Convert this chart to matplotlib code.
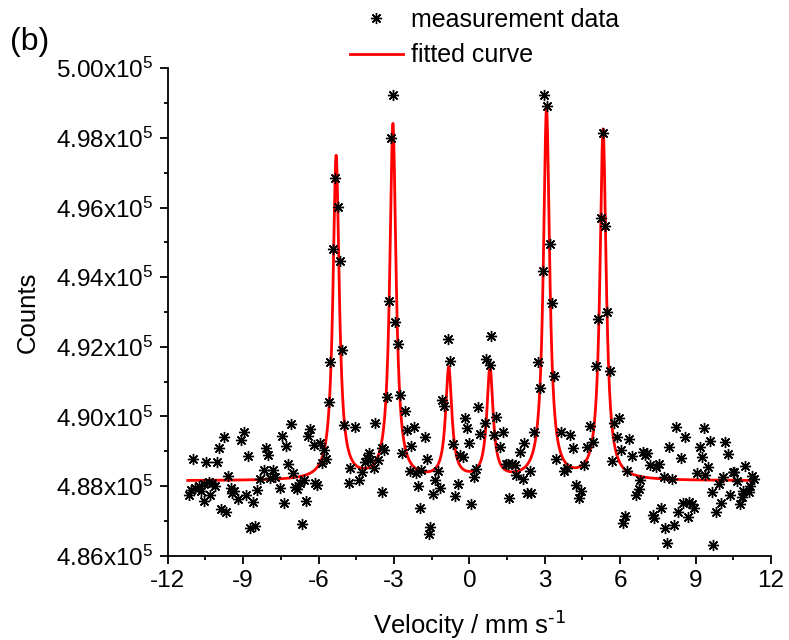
import numpy as np
import matplotlib
matplotlib.use("Agg")
import matplotlib.pyplot as plt
from matplotlib.ticker import MultipleLocator

plt.rcParams['font.family'] = ['Liberation Sans', 'DejaVu Sans']
plt.rcParams['mathtext.default'] = 'regular'

# measured data (velocity mm/s, counts)
velocity = [
    -11.16, -11.07, -11.00, -10.93, -10.76, -10.67, -10.56, -10.56, -10.47, -10.37,
    -10.33, -10.23, -10.13, -10.03, -9.94, -9.87, -9.77, -9.67, -9.61, -9.50,
    -9.45, -9.37, -9.20, -9.07, -8.95, -8.87, -8.80, -8.71, -8.60, -8.54,
    -8.44, -8.31, -8.16, -8.08, -8.00, -7.95, -7.81, -7.74, -7.55, -7.45,
    -7.36, -7.28, -7.21, -7.09, -7.01, -6.92, -6.85, -6.72, -6.65, -6.59,
    -6.49, -6.41, -6.32, -6.19, -6.15, -6.06, -5.95, -5.85, -5.77, -5.69,
    -5.59, -5.53, -5.42, -5.36, -5.22, -5.13, -5.06, -5.00, -4.80, -4.73,
    -4.53, -4.40, -4.27, -4.14, -4.07, -4.00, -3.94, -3.81, -3.77, -3.65,
    -3.49, -3.47, -3.38, -3.29, -3.18, -3.11, -3.02, -2.94, -2.85, -2.77,
    -2.68, -2.57, -2.50, -2.37, -2.31, -2.21, -2.11, -2.06, -1.95, -1.91,
    -1.78, -1.68, -1.62, -1.55, -1.44, -1.35, -1.24, -1.15, -1.09, -0.99,
    -0.85, -0.75, -0.66, -0.56, -0.47, -0.36, -0.27, -0.19, -0.09, 0.00,
    0.08, 0.17, 0.27, 0.34, 0.44, 0.61, 0.68, 0.81, 0.87, 0.97,
    1.07, 1.23, 1.34, 1.45, 1.55, 1.59, 1.68, 1.80, 1.87, 2.03,
    2.13, 2.19, 2.30, 2.40, 2.45, 2.58, 2.73, 2.82, 2.91, 2.98,
    3.09, 3.19, 3.29, 3.38, 3.44, 3.66, 3.75, 3.88, 3.99, 4.14,
    4.25, 4.35, 4.44, 4.57, 4.68, 4.78, 4.92, 5.04, 5.12, 5.24,
    5.32, 5.41, 5.47, 5.58, 5.67, 5.74, 5.87, 5.94, 6.04, 6.11,
    6.20, 6.29, 6.37, 6.49, 6.64, 6.73, 6.77, 6.90, 7.00, 7.08,
    7.17, 7.30, 7.36, 7.44, 7.53, 7.63, 7.73, 7.79, 7.88, 7.96,
    8.06, 8.15, 8.23, 8.32, 8.43, 8.50, 8.59, 8.68, 8.72, 8.85,
    8.95, 9.05, 9.16, 9.25, 9.32, 9.38, 9.48, 9.58, 9.65, 9.71,
    9.82, 9.94, 10.01, 10.09, 10.18, 10.29, 10.38, 10.47, 10.54, 10.64,
    10.78, 10.84, 10.88, 10.97, 11.11, 11.17, 11.24, 11.33,
]
counts = [
    487738, 487900, 488773, 487950, 488000, 487850, 488050, 487570, 488687, 488130,
    487738, 488090, 487997, 488687, 489098, 487328, 489397, 487259, 488284, 487940,
    487800, 487870, 487630, 489319, 489549, 487750, 488859, 486782, 487546, 486860,
    487880, 488190, 488470, 489098, 488888, 488218, 488470, 488264, 487949, 489434,
    487500, 489147, 488630, 489770, 488380, 487977, 487902, 488075, 486905, 488170,
    487575, 489434, 489626, 489175, 488093, 488026, 489224, 488649, 489031, 488764,
    490420, 491569, 494807, 496839, 496023, 494463, 491905, 489749, 488093, 488506,
    489701, 488170, 488408, 488696, 488793, 488954, 488744, 488506, 489799, 488744,
    489080, 487833, 489031, 490570, 493313, 497989, 499233, 492718, 492069, 490612,
    488954, 490161, 489606, 488437, 489147, 489701, 488362, 487997, 487374, 488457,
    489397, 488764, 486618, 486828, 487767, 488170, 488437, 487931, 490468, 490296,
    492230, 491600, 489204, 487710, 488055, 488888, 488822, 489943, 489655, 489224,
    487480, 488247, 488477, 490259, 489491, 489816, 491638, 491474, 492307, 489463,
    489971, 489126, 489557, 488620, 488620, 487644, 488620, 488600, 488313, 488983,
    488190, 489224, 487805, 488437, 487805, 489557, 491569, 490805, 494184, 499233,
    498925, 494951, 493247, 491167, 488780, 489557, 488437, 488506, 489463, 489080,
    488026, 487644, 487862, 488600, 489108, 489721, 489270, 491454, 492796, 495690,
    498132, 495468, 493006, 491302, 488724, 489799, 489414, 489943, 489031, 486925,
    487135, 488437, 489339, 488873, 487738, 487902, 488170, 488980, 488900, 488960,
    488600, 487164, 487069, 488543, 488630, 487356, 488264, 486782, 486379, 489126,
    488190, 486876, 489701, 487259, 488793, 487500, 489397, 487115, 487546, 487480,
    487356, 488362, 489126, 488839, 489682, 488313, 488534, 489290, 487833, 486302,
    487259, 488055, 487519, 488247, 489252, 488917, 487738, 488408, 488390, 488150,
    487480, 487700, 487862, 488572, 487833, 487997, 488284, 488190,
]

# fitted sextet (Lorentzian lines): positions, amplitudes, half widths, baseline
fit_positions = [-5.30, -3.04, -0.82, 0.82, 3.07, 5.32]
fit_amplitudes = [9300, 10200, 3180, 3180, 10620, 10050]
fit_halfwidths = [0.15, 0.15, 0.15, 0.15, 0.15, 0.15]
fit_baseline = 488150
fit_range = [-11.2, 11.35]

xticks = [-12, -9, -6, -3, 0, 3, 6, 9, 12]
yticks = [486000, 488000, 490000, 492000, 494000, 496000, 498000, 500000]
ytick_labels = ['4.86x10$^5$', '4.88x10$^5$', '4.90x10$^5$', '4.92x10$^5$',
                '4.94x10$^5$', '4.96x10$^5$', '4.98x10$^5$', '5.00x10$^5$']

xf = np.linspace(fit_range[0], fit_range[1], 3000)
yf = np.full_like(xf, float(fit_baseline))
for p, a, g in zip(fit_positions, fit_amplitudes, fit_halfwidths):
    yf += a * g**2 / ((xf - p)**2 + g**2)

W, H = 789, 640
fig = plt.figure(figsize=(W/100, H/100), dpi=100)
ax = fig.add_axes([167.7/W, 1 - 555.7/H, (771 - 167.7)/W, (555.7 - 68.3)/H])

sc = ax.plot(velocity, counts, linestyle='none', marker=(8, 2, 0), markersize=8,
             markeredgewidth=1.0, color='black', label='measurement data', zorder=3)
ln = ax.plot(xf, yf, color='#ff0000', lw=2.0, label='fitted curve', zorder=2)

ax.set_xlim(-12, 12)
ax.set_ylim(486000, 500000)
ax.set_xticks(xticks)
ax.set_xticklabels([str(t) for t in xticks])
ax.xaxis.set_minor_locator(MultipleLocator(1.5))
ax.set_yticks(yticks)
ax.set_yticklabels(ytick_labels)
ax.yaxis.set_minor_locator(MultipleLocator(1000))

for s in ['top', 'right']:
    ax.spines[s].set_visible(False)
for s in ['left', 'bottom']:
    ax.spines[s].set_linewidth(1.3)
ax.tick_params(which='major', direction='out', length=6, width=1.3, labelsize=17.5, pad=4)
ax.tick_params(which='minor', direction='out', length=3, width=1.3)

ax.set_xlabel('Velocity / mm s$^{\\text{-1}}$', fontsize=18.5, labelpad=12)
ax.set_ylabel('Counts', fontsize=18.5, labelpad=12)

fig.text(10/W, 1 - 42/H, '(b)', fontsize=23, va='center', ha='left')

leg = fig.legend(handles=[sc[0], ln[0]], loc='upper left',
                 bbox_to_anchor=(350/W, 1 - 8/H), frameon=False, fontsize=18,
                 handlelength=2.1, handletextpad=0.35, labelspacing=0.45,
                 borderpad=0, borderaxespad=0)

fig.savefig('out.png', dpi=100)
